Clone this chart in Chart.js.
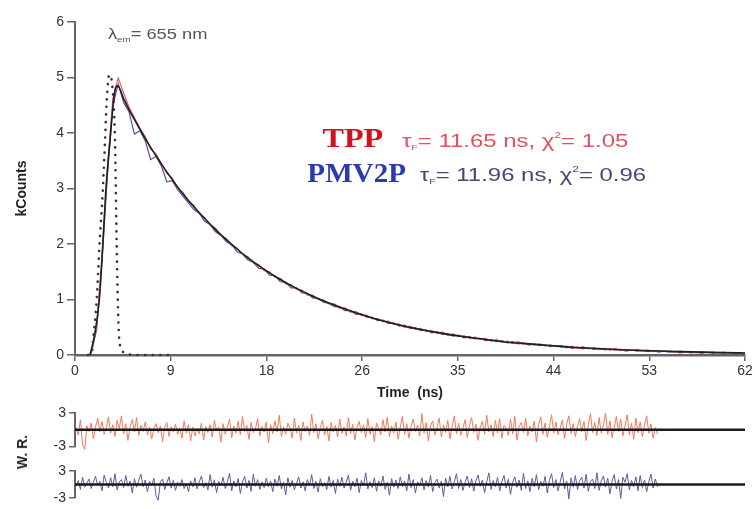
<!DOCTYPE html>
<html><head><meta charset="utf-8">
<script src="https://cdn.jsdelivr.net/npm/chart.js@4.4.1/dist/chart.umd.min.js"></script>
<style>
html,body{margin:0;padding:0;background:#fff;}
#wrap{position:relative;width:755px;height:509px;overflow:hidden;background:#fff;}
canvas{position:absolute;left:0;}
#wr{position:absolute;left:22px;top:452px;transform:translate(-50%,-50%) rotate(-90deg);font:bold 14px "Liberation Sans",Arial,sans-serif;color:#222;white-space:nowrap;}
</style></head><body>
<div id="wrap">
<canvas id="main" width="755" height="405" style="top:0"></canvas>
<canvas id="res1" width="755" height="58" style="top:400px"></canvas>
<canvas id="res2" width="755" height="60" style="top:458px"></canvas>
<div id="wr">W. R.</div>
</div>
<script>
const FF = '"Liberation Sans", Arial, sans-serif';

// x axis ticks (evenly spaced, labelled as in the figure)
const xTickPositions = [0, 8.857, 17.714, 26.571, 35.429, 44.286, 53.143, 62];
const xTickLabels = ['0', '9', '18', '26', '35', '44', '53', '62'];

// Instrument response (dotted)
const irfTime   = [1.2, 1.55, 1.7, 2.01, 2.25, 2.56, 2.78, 2.93, 3.17, 3.45, 3.70, 3.86, 4.01, 4.16, 4.5, 4.78, 6, 7.5, 9];
const irfCounts = [0, 0.04, 0.32, 1.0, 1.93, 2.92, 3.87, 4.56, 5.05, 4.85, 3.87, 1.95, 0.63, 0.18, 0.05, 0.02, 0, 0, 0];

// Fit (solid black)
const fitTime   = [1.39, 1.8, 2.25, 2.55, 2.84, 3.24, 3.7, 3.95, 4.5, 5, 6, 7, 8, 9, 10, 11, 12, 13, 14, 15, 16, 17, 18, 19, 20, 22, 24, 26, 28, 30, 32, 34, 36, 38, 40, 42, 44, 46, 48, 50, 52, 54, 56, 58, 60, 62];
const fitCounts = [0, 0.35, 1.0, 1.9, 2.92, 3.87, 4.77, 4.85, 4.62, 4.42, 4.07, 3.74, 3.44, 3.16, 2.90, 2.67, 2.46, 2.26, 2.08, 1.91, 1.75, 1.61, 1.48, 1.36, 1.25, 1.06, 0.90, 0.76, 0.64, 0.54, 0.46, 0.39, 0.33, 0.28, 0.23, 0.20, 0.17, 0.14, 0.12, 0.10, 0.085, 0.072, 0.061, 0.052, 0.044, 0.037];

// Measured decays, sampled every 0.5 ns from 1.5 ns
const dataStart = 1.5, dataStep = 0.5;
const tppCounts = [0.05, 0.50, 1.80, 3.35, 4.62, 4.99, 4.72, 4.47, 4.28, 4.09, 3.93, 3.71, 3.62, 3.45, 3.27, 3.19, 3.01, 2.93, 2.76, 2.70,
  2.54, 2.48, 2.34, 2.29, 2.15, 2.10, 1.97, 1.93, 1.81, 1.77, 1.66, 1.63, 1.52, 1.50, 1.40, 1.38, 1.28, 1.27, 1.18, 1.17,
  1.08, 1.08, 1.00, 0.99, 0.92, 0.92, 0.84, 0.85, 0.77, 0.78, 0.71, 0.72, 0.65, 0.66, 0.60, 0.61, 0.55, 0.56, 0.50, 0.52,
  0.46, 0.48, 0.42, 0.44, 0.39, 0.41, 0.35, 0.38, 0.33, 0.35, 0.30, 0.32, 0.28, 0.30, 0.25, 0.28, 0.23, 0.25, 0.21, 0.24,
  0.20, 0.21, 0.18, 0.20, 0.16, 0.18, 0.15, 0.17, 0.13, 0.16, 0.12, 0.15, 0.11, 0.13, 0.10, 0.12, 0.09, 0.12, 0.08, 0.10,
  0.08, 0.10, 0.07, 0.09, 0.06, 0.08, 0.06, 0.07, 0.05, 0.07, 0.05, 0.06, 0.04, 0.06, 0.04, 0.05, 0.03, 0.05, 0.03, 0.04,
  0.02, 0.04];
const pmv2pCounts = [0.03, 0.45, 1.70, 3.25, 4.50, 4.88, 4.55, 4.38, 3.98, 4.04, 3.86, 3.52, 3.58, 3.40, 3.12, 3.14, 2.98, 2.86, 2.74, 2.62,
  2.55, 2.41, 2.35, 2.22, 2.16, 2.04, 1.99, 1.86, 1.82, 1.71, 1.67, 1.56, 1.55, 1.44, 1.43, 1.32, 1.31, 1.21, 1.21, 1.12,
  1.11, 1.03, 1.02, 0.95, 0.93, 0.87, 0.86, 0.80, 0.80, 0.73, 0.74, 0.68, 0.68, 0.62, 0.63, 0.57, 0.58, 0.52, 0.54, 0.48,
  0.49, 0.44, 0.45, 0.40, 0.42, 0.37, 0.38, 0.34, 0.36, 0.31, 0.33, 0.29, 0.30, 0.26, 0.28, 0.24, 0.26, 0.22, 0.24, 0.20,
  0.22, 0.18, 0.20, 0.17, 0.18, 0.15, 0.17, 0.14, 0.16, 0.12, 0.14, 0.11, 0.13, 0.10, 0.12, 0.09, 0.11, 0.09, 0.10, 0.07,
  0.09, 0.07, 0.08, 0.06, 0.08, 0.05, 0.07, 0.05, 0.06, 0.04, 0.06, 0.04, 0.05, 0.03, 0.05, 0.03, 0.04, 0.02, 0.04, 0.02,
  0.03, 0.02];

// Weighted residuals, sampled every 0.2 ns from 0.1 ns
const residualStart = 0.1, residualStep = 0.2;
const tppResidual = [
  0.4, -0.9, 1.8, -2.6, -3.5, 0.7, -0.3, 1.2, -1.6, 0.5, 2.1, -0.4, 1.5, -0.8, 0.3, 2.3, -0.6, 0.9, -1.2, 1.7, 0.2, 2.5, -0.7, 1.1, -1.9, 0.6, 1.8, -0.4, 2.2, -1.0,
  0.8, -0.3, 1.4, -0.9, 0.5, -1.6, 0.2, 1.1, -0.5, 0.7, -2.1, 0.4, 1.3, -1.2, 0.6, -0.4, 1.0, -0.8, 0.3, -1.5, 1.6, -0.6, 0.9, -2.0, 0.5, -1.1, 0.3, -0.7, 1.2, -1.8,
  0.6, -0.5, 0.9, -1.3, 1.7, -0.2, 0.5, -2.2, 1.1, -0.8, 0.4, 1.9, -1.4, 0.7, -0.6, 1.5, -0.9, 2.4, -0.3, 0.8, -1.7, 1.3, -0.5, 0.2, 2.0, -1.1, 0.6, -0.4, 1.4, -2.3,
  0.9, -0.7, 1.6, -0.4, 2.6, -1.2, 0.5, -0.8, 1.2, 0.3, -1.5, 2.1, -0.6, 0.8, -1.9, 1.4, -0.3, 0.7, -1.0, 2.8, -0.5, 1.1, -1.6, 0.4, 1.7, -0.9, 0.6, -2.0, 1.3, -0.4,
  0.8, -1.3, 1.9, -0.6, 0.5, -1.1, 2.2, -0.7, 1.0, -1.8, 0.4, 1.5, -0.5, 0.9, -1.4, 2.0, -0.8, 0.6, -2.1, 1.2, 0.3, -0.9, 1.8, -0.4, 2.3, -1.2, 0.7, -0.6, 1.4, -1.7,
  0.5, 2.4, -0.8, 1.1, -1.5, 0.6, 1.9, -0.3, 0.8, -1.1, 2.9, -0.6, 1.3, -2.0, 0.7, 1.6, -0.9, 0.4, 2.1, -1.3, 0.9, -0.5, 1.7, -1.6, 0.6, 2.5, -0.7, 1.2, -1.0, 0.3,
  1.8, -1.4, 0.7, 2.2, -0.5, 1.0, -1.9, 0.5, 1.5, -0.8, 2.6, -0.4, 0.9, -1.2, 1.7, -0.6, 2.0, -1.5, 0.8, 0.3, -1.0, 1.9, -0.7, 2.4, -1.8, 0.6, 1.3, -0.5, 2.1, -1.1,
  0.7, -0.4, 1.6, -2.2, 0.9, 2.3, -0.8, 1.2, -1.3, 0.5, 2.7, -0.6, 1.4, -0.9, 0.3, 1.8, -1.6, 1.0, 2.5, -0.7, 1.1, -1.2, 0.6, 2.0, -0.4, 1.5, -1.9, 0.8, 2.9, -0.5,
  1.3, -1.0, 2.2, -0.6, 0.9, 3.0, -0.8, 1.6, -1.4, 0.5, 2.4, -0.3, 1.9, -1.1, 0.7, 2.7, -0.9, 1.2, -1.7, 2.1, -0.5, 1.4, -1.2, 0.8, 2.5, -0.6, 1.0, -1.5, 0.4, -0.8];
const pmv2pResidual = [
  -0.4, 0.9, -1.1, 1.6, -0.6, 0.3, 1.2, -0.9, 0.5, 1.8, -0.3, 0.7, -1.4, 2.1, 0.4, -0.8, 1.5, -0.5, 2.4, -1.2, 0.6, 1.1, -0.7, 2.0, -0.4, 0.8, -1.9, 1.3, -0.6, 0.9,
  2.3, -0.5, 1.0, -1.6, 0.7, -0.3, 1.4, -2.5, -3.5, 0.6, 1.2, -1.1, 0.4, 1.7, -0.8, 0.9, -1.3, 0.5, -0.4, 1.1, -0.9, 0.3, -1.6, 0.8, -0.5, 1.5, -1.0, 0.6, 1.9, -0.7,
  0.4, -1.2, 2.2, -0.6, 1.0, -1.8, 0.7, -0.3, 1.6, -0.9, 0.5, 2.5, -1.4, 0.8, -0.5, 1.3, -2.0, 0.6, 1.8, -0.8, 0.9, -1.5, 2.3, -0.4, 1.1, -1.1, 0.6, -0.7, 1.4, -0.5,
  0.8, -1.6, 1.2, -0.4, 2.0, -1.0, 0.5, -2.3, 1.5, -0.6, 0.9, -1.2, 0.3, 1.7, -0.8, 0.6, -1.4, 1.1, -0.3, 2.2, -0.9, 0.7, -1.7, 1.3, -0.5, 0.4, -1.1, 1.8, -0.6, 0.9,
  -2.0, 1.2, -0.4, 1.6, -0.8, 0.5, 2.1, -1.3, 0.7, -0.5, 1.4, -1.8, 0.9, -0.3, 2.6, -1.0, 0.6, -0.7, 1.5, -1.5, 0.8, -0.4, 1.9, -1.1, 0.5, -2.4, 1.3, -0.6, 1.0, -0.9,
  1.7, -0.5, 0.8, -1.4, 2.3, -0.7, 1.1, -1.9, 0.6, -0.3, 1.5, -1.2, 0.9, -0.6, 2.0, -1.6, 0.4, 1.2, -0.8, 0.7, -2.7, 1.4, -0.5, 1.8, -1.0, 0.6, 2.4, -0.9, 1.1, -1.3,
  0.5, 1.9, -0.7, 1.3, -1.5, 0.8, 2.1, -0.4, 1.0, -1.8, 0.6, 2.6, -1.1, 0.9, -0.5, 1.6, -1.4, 0.7, 2.0, -0.8, 1.2, -2.2, 0.5, 1.7, -0.6, 1.0, -1.3, 2.5, -0.9, 0.8,
  -1.6, 1.4, -0.5, 2.2, -1.2, 0.7, -0.4, 1.8, -1.9, 0.9, 2.4, -0.7, 1.1, -1.4, 0.6, 2.7, -1.0, 0.8, -3.2, 1.5, -0.6, 2.0, -1.1, 0.9, 1.6, -0.8, 2.3, -1.5, 0.7, 1.2,
  -0.9, 2.6, -1.3, 0.8, 1.9, -0.6, 1.4, -2.1, 0.7, 2.2, -1.0, 1.1, -3.1, 1.6, 0.5, 2.4, -1.2, 0.9, -0.5, 1.7, -1.4, 2.0, -0.7, 1.0, -1.6, 0.6, 2.3, -0.8, 1.2, -0.5];
const zeroLineTime = [0, 62];
const zeroLineValue = [0, 0];
const residualTicks = [-3, 3];

const pts = (xs, ys) => ys.map((v, i) => ({x: xs[i], y: v}));
const sampled = (start, step, ys) => ys.map((v, i) => ({x: +(start + i * step).toFixed(2), y: v}));

function drawRuns(ctx, x0, y0, color, sx, parts) {
  ctx.save();
  ctx.translate(x0, y0);
  ctx.scale(sx, 1);
  let x = 0;
  ctx.fillStyle = color;
  for (const p of parts) {
    ctx.font = p.f;
    ctx.fillText(p.t, x, p.dy || 0);
    x += ctx.measureText(p.t).width + (p.gap || 0);
  }
  ctx.restore();
}

const annotations = {
  id: 'annotations',
  afterDatasetsDraw(chart) {
    const {ctx, scales: {x, y}} = chart;
    const px = v => x.getPixelForValue(v), py = v => y.getPixelForValue(v);
    ctx.save();
    ctx.textAlign = 'left';
    ctx.textBaseline = 'alphabetic';
    const sans = s => s + 'px ' + FF;
    const serif = 'bold 28px "Liberation Serif", "Times New Roman", serif';
    drawRuns(ctx, px(3.05), py(5.69), '#555', 1.22, [
      {t: 'λ', f: sans(15)}, {t: 'em', f: sans(8), dy: 3}, {t: '= 655 nm', f: sans(15)}]);
    drawRuns(ctx, px(22.9), py(3.75), '#d0131f', 1.15, [{t: 'TPP', f: serif}]);
    drawRuns(ctx, px(30.25), py(3.75), '#e0525e', 1.33, [
      {t: 'τ', f: sans(18)}, {t: 'F', f: sans(8), dy: 3}, {t: '= 11.65 ns, χ', f: sans(18)},
      {t: '2', f: sans(9), dy: -9}, {t: '= 1.05', f: sans(18)}]);
    drawRuns(ctx, px(21.5), py(3.12), '#2c3ab0', 1.04, [{t: 'PMV2P', f: serif}]);
    drawRuns(ctx, px(31.9), py(3.14), '#4a4577', 1.33, [
      {t: 'τ', f: sans(18)}, {t: 'F', f: sans(8), dy: 3}, {t: '= 11.96 ns, χ', f: sans(18)},
      {t: '2', f: sans(9), dy: -9}, {t: '= 0.96', f: sans(18)}]);
    ctx.restore();
  }
};

new Chart(document.getElementById('main'), {
  type: 'line',
  data: {datasets: [
    {label: 'IRF', data: pts(irfTime, irfCounts), borderColor: '#333', borderWidth: 2.6, borderDash: [0.1, 7.5],
     borderCapStyle: 'round', pointRadius: 0, cubicInterpolationMode: 'monotone', clip: false},
    {label: 'Fit', data: pts(fitTime, fitCounts), borderColor: '#1e1e1e', borderWidth: 1.6, pointRadius: 0,
     cubicInterpolationMode: 'monotone', clip: false},
    {label: 'TPP', data: sampled(dataStart, dataStep, tppCounts), borderColor: '#e3606c', borderWidth: 1.2, pointRadius: 0, tension: 0},
    {label: 'PMV2P', data: sampled(dataStart, dataStep, pmv2pCounts), borderColor: '#5d4c9c', borderWidth: 1.2, pointRadius: 0, tension: 0}
  ]},
  options: {
    responsive: false, animation: false, devicePixelRatio: 1,
    layout: {padding: {left: 0, right: 10, top: 22, bottom: 0}},
    plugins: {legend: {display: false}, tooltip: {enabled: false}},
    scales: {
      x: {type: 'linear', min: 0, max: 62,
        afterBuildTicks: s => { s.ticks = xTickPositions.map(v => ({value: v})); },
        ticks: {callback: (v, i) => xTickLabels[i], color: '#333', font: {size: 14, family: FF}, padding: 2, maxRotation: 0, autoSkip: false},
        grid: {drawOnChartArea: false, drawTicks: true, tickLength: 6, color: '#666', lineWidth: 1.5},
        border: {display: true, color: '#666', width: 2.5},
        title: {display: true, text: 'Time  (ns)', color: '#222', font: {size: 14, weight: 'bold', family: FF}, padding: {top: 0, bottom: 3}},
        afterFit: s => { s.height = 50; }
      },
      y: {min: 0, max: 6,
        ticks: {stepSize: 1, color: '#333', font: {size: 14, family: FF}, padding: 3},
        grid: {drawOnChartArea: false, drawTicks: true, tickLength: 8, color: '#666', lineWidth: 1.5},
        border: {display: true, color: '#666', width: 2},
        title: {display: true, text: 'kCounts', color: '#222', font: {size: 14, weight: 'bold', family: FF}, padding: {top: 14, bottom: 0}},
        afterFit: s => { s.width = 75; }
      }
    }
  },
  plugins: [annotations]
});

function residualChart(id, values, color, padTop, padBottom) {
  new Chart(document.getElementById(id), {
    type: 'line',
    data: {datasets: [
      {label: 'zero', data: pts(zeroLineTime, zeroLineValue), borderColor: '#1a1a1a', borderWidth: 2.6, pointRadius: 0},
      {label: 'residual', data: sampled(residualStart, residualStep, values), borderColor: color, borderWidth: 1, pointRadius: 0, clip: false}
    ]},
    options: {
      responsive: false, animation: false, devicePixelRatio: 1,
      layout: {padding: {left: 0, right: 10, top: padTop, bottom: padBottom}},
      plugins: {legend: {display: false}, tooltip: {enabled: false}},
      scales: {
        x: {type: 'linear', min: 0, max: 62, display: false},
        y: {min: -3, max: 3,
          afterBuildTicks: s => { s.ticks = residualTicks.map(v => ({value: v})); },
          ticks: {color: '#333', font: {size: 14, family: FF}, padding: 3, callback: v => String(v)},
          grid: {drawOnChartArea: false, drawTicks: true, tickLength: 6, color: '#666', lineWidth: 1.5},
          border: {display: true, color: '#666', width: 2},
          afterFit: s => { s.width = 75; }
        }
      }
    }
  });
}
residualChart('res1', tppResidual, '#f27a5c', 13, 8);
residualChart('res2', pmv2pResidual, '#6a55a2', 13, 20);
</script>
</body></html>
